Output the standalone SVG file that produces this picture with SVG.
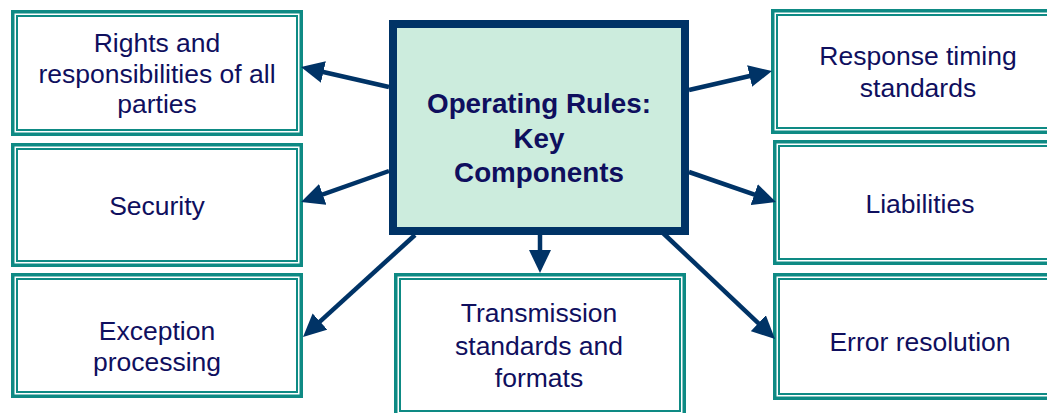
<svg xmlns="http://www.w3.org/2000/svg" width="1047" height="413" viewBox="0 0 1047 413">
  <style>
    .outer { fill: #ffffff; stroke: #0E8A84; stroke-width: 3.5; }
    .inner { fill: none; stroke: #0E8A84; stroke-width: 2; }
    .label { font-family: "Liberation Sans", Arial, sans-serif; font-size: 26.5px; fill: #0F0F5E; text-anchor: middle; }
    .title { font-family: "Liberation Sans", Arial, sans-serif; font-size: 27.8px; font-weight: bold; fill: #0F0F5E; text-anchor: middle; }
    .hub { fill: #CCECDD; stroke: #003366; stroke-width: 8; }
    .conn { stroke: #003366; stroke-width: 4.5; fill: none; marker-end: url(#head); }
  </style>
  <defs>
    <marker id="head" markerUnits="userSpaceOnUse" viewBox="0 0 23 22" refX="8" refY="11" markerWidth="23" markerHeight="22" orient="auto">
      <path d="M0,0 L23,11 L0,22 Z" fill="#003366"/>
    </marker>
  </defs>
  <rect width="1047" height="413" fill="#ffffff"/>

  <!-- left column -->
  <g id="rights">
    <rect class="outer" x="12.75" y="11.75" width="288.5" height="122.5"/>
    <rect class="inner" x="17" y="16" width="280" height="114"/>
    <text class="label" x="157" y="52">Rights and</text>
    <text class="label" x="157" y="83">responsibilities of all</text>
    <text class="label" x="157" y="113">parties</text>
  </g>
  <g id="security">
    <rect class="outer" x="12.75" y="144.75" width="288.5" height="120.5"/>
    <rect class="inner" x="17" y="149" width="280" height="112"/>
    <text class="label" x="157" y="215">Security</text>
  </g>
  <g id="exception">
    <rect class="outer" x="12.75" y="274.75" width="288.5" height="121.5"/>
    <rect class="inner" x="17" y="279" width="280" height="113"/>
    <text class="label" x="157" y="340">Exception</text>
    <text class="label" x="157" y="371">processing</text>
  </g>

  <!-- bottom centre -->
  <g id="transmission">
    <rect class="outer" x="395.75" y="274.75" width="288.5" height="141.5"/>
    <rect class="inner" x="400" y="279" width="280" height="132"/>
    <text class="label" x="539" y="322">Transmission</text>
    <text class="label" x="539" y="355">standards and</text>
    <text class="label" x="539" y="387">formats</text>
  </g>

  <!-- right column -->
  <g id="response">
    <rect class="outer" x="772.75" y="10.75" width="289.5" height="121.5"/>
    <rect class="inner" x="777" y="15" width="281" height="113"/>
    <text class="label" x="918" y="65">Response timing</text>
    <text class="label" x="918" y="97">standards</text>
  </g>
  <g id="liabilities">
    <rect class="outer" x="774.75" y="141.75" width="287.5" height="121.5"/>
    <rect class="inner" x="779" y="146" width="279" height="113"/>
    <text class="label" x="920" y="213">Liabilities</text>
  </g>
  <g id="error">
    <rect class="outer" x="774.75" y="274.75" width="287.5" height="123.5"/>
    <rect class="inner" x="779" y="279" width="279" height="115"/>
    <text class="label" x="920" y="351">Error resolution</text>
  </g>

  <!-- central hub -->
  <g id="hub">
    <rect class="hub" x="393" y="24" width="292" height="207"/>
    <text class="title" x="539" y="113">Operating Rules:</text>
    <text class="title" x="539" y="148">Key</text>
    <text class="title" x="539" y="182">Components</text>
  </g>

  <!-- connectors -->
  <g id="connectors">
    <line class="conn" x1="389" y1="87" x2="315.6" y2="70.3"/>
    <line class="conn" x1="389" y1="171" x2="315.2" y2="197.1"/>
    <line class="conn" x1="415" y1="235" x2="314.1" y2="326.9"/>
    <line class="conn" x1="540" y1="235" x2="540" y2="258"/>
    <line class="conn" x1="689" y1="90" x2="757.4" y2="74.3"/>
    <line class="conn" x1="689" y1="172" x2="761.8" y2="197.2"/>
    <line class="conn" x1="663" y1="233" x2="764.1" y2="328.7"/>
  </g>
</svg>
